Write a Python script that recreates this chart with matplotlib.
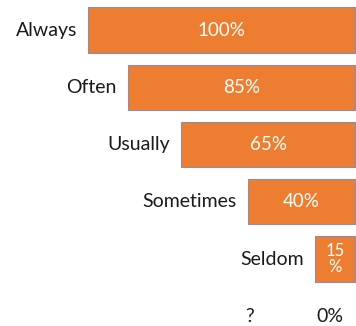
import matplotlib.pyplot as plt

# answers and their share, top to bottom
categories = ['Always', 'Often', 'Usually', 'Sometimes', 'Seldom']
values = [100, 85, 65, 40, 15]
value_labels = ['100%', '85%', '65%', '40%', '15\n%']
bottom_labels = ['?', '0%']

plt.rcParams['font.family'] = ['Lato', 'DejaVu Sans']

fig = plt.figure(figsize=(3.56, 3.26), dpi=100)
ax = fig.add_axes([0, 0, 1, 1])

rows = list(range(len(categories)))
ax.barh(rows, values, height=0.79, color='#ED7D31',
        edgecolor='#8a8fae', linewidth=0.8)

for y, cat, v, lab in zip(rows, categories, values, value_labels):
    ax.annotate(cat, xy=(v, y), xytext=(-8, 0), textcoords='offset points',
                ha='right', va='center', fontsize=14, color='#1a1a1a')
    fs = 13.5 if '\n' not in lab else 12
    ax.text(v / 2, y, lab, ha='center', va='center', color='white',
            fontsize=fs, linespacing=0.95)

# bottom row: unknown answer and axis origin
ax.text(39.5, 5, bottom_labels[0], ha='center', va='center', fontsize=14, color='#1a1a1a')
ax.text(9.5, 5, bottom_labels[1], ha='center', va='center', fontsize=14, color='#1a1a1a')

ax.set_xlim(133, -0.4)
ax.set_ylim(5.17, -0.524)
ax.axis('off')

fig.savefig('out.png', dpi=100)
